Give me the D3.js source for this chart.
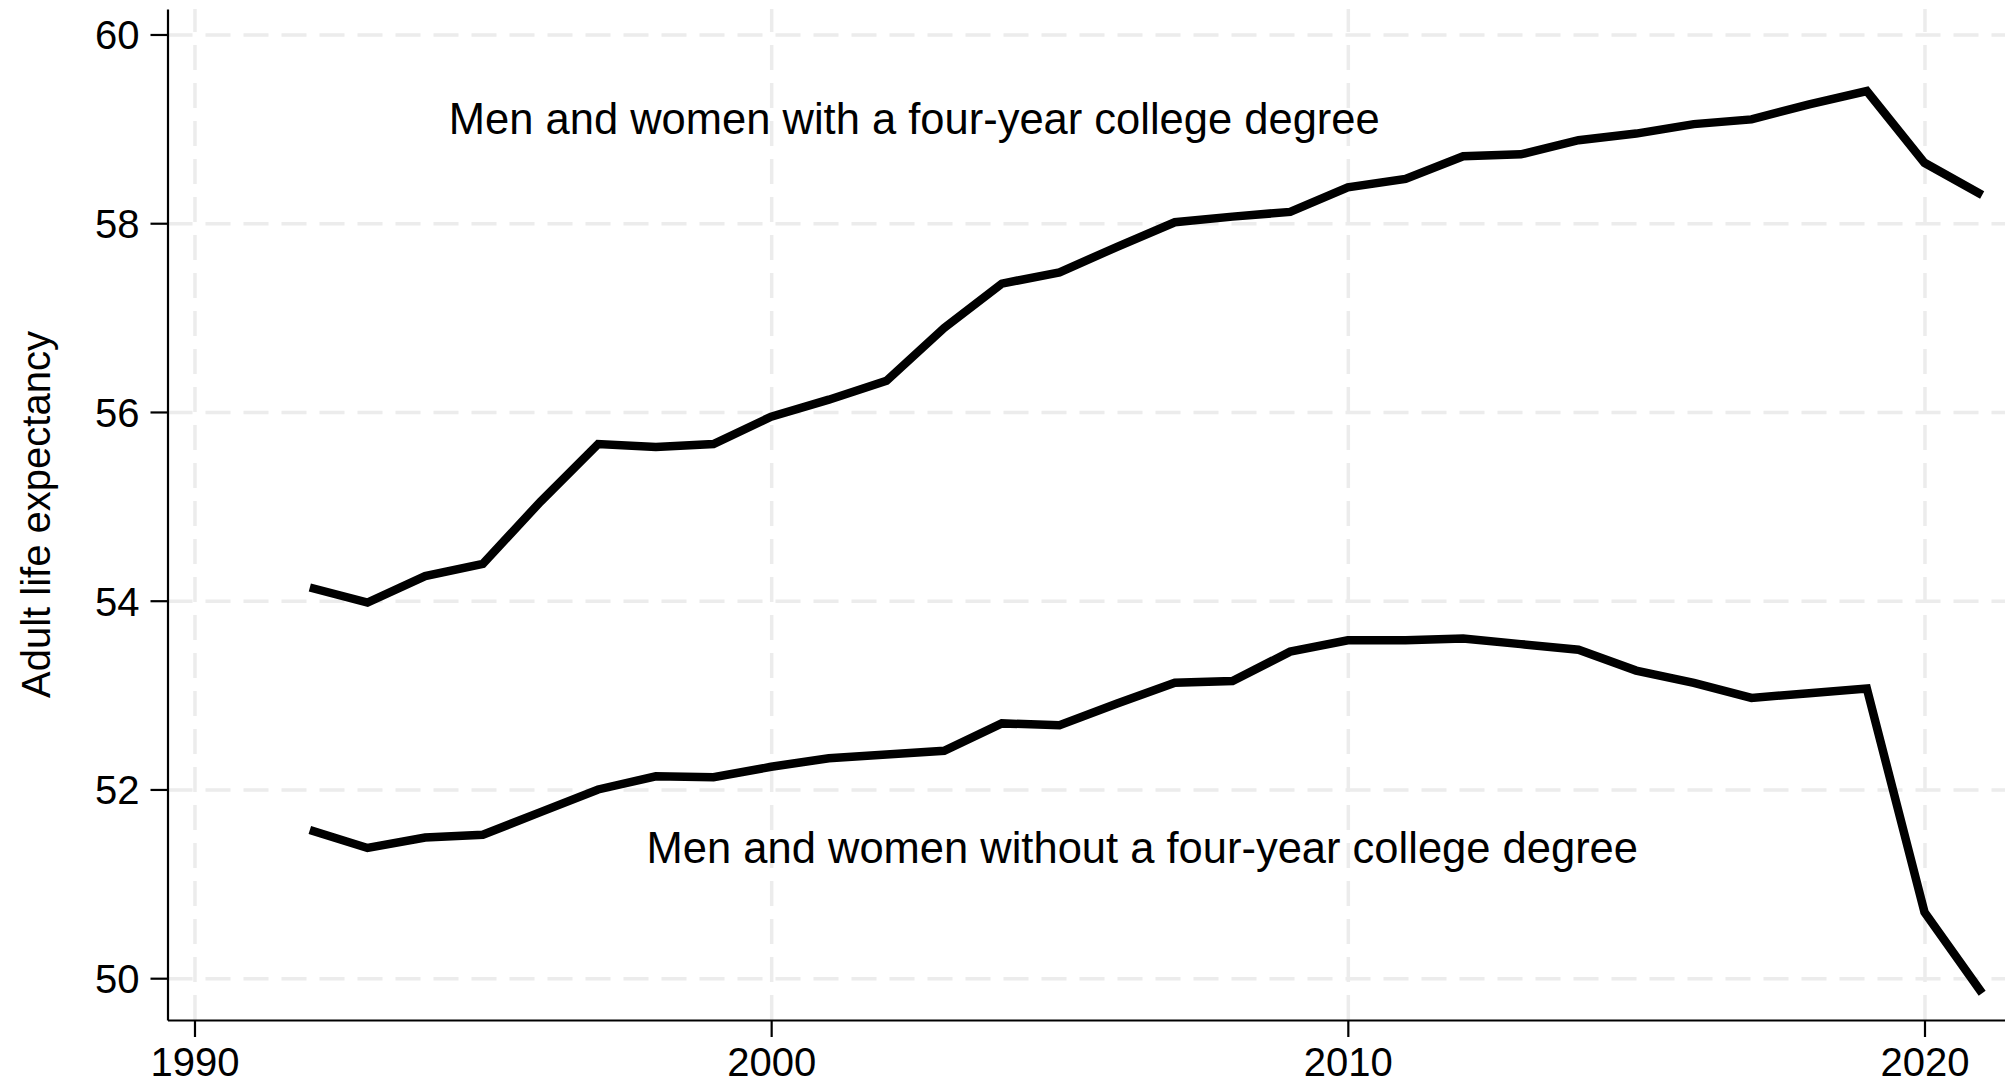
<!DOCTYPE html>
<html>
<head>
<meta charset="utf-8">
<script src="https://cdn.jsdelivr.net/npm/d3@7"></script>
<style>
  body { margin: 0; background: #fff; }
  svg { display: block; font-family: "Liberation Sans", Arial, Helvetica, sans-serif; }
</style>
</head>
<body>
<div id="chart"></div>
<script>
// values
let years = [1992, 1993, 1994, 1995, 1996, 1997, 1998, 1999, 2000, 2001,
             2002, 2003, 2004, 2005, 2006, 2007, 2008, 2009, 2010, 2011,
             2012, 2013, 2014, 2015, 2016, 2017, 2018, 2019, 2020, 2021];

let withDegree = [54.14, 53.98, 54.26, 54.39, 55.05, 55.66, 55.63, 55.66, 55.95, 56.13,
                  56.33, 56.89, 57.36, 57.48, 57.75, 58.01, 58.07, 58.12, 58.38, 58.47,
                  58.71, 58.73, 58.88, 58.95, 59.05, 59.10, 59.26, 59.40, 58.64, 58.30];

let withoutDegree = [51.57, 51.38, 51.49, 51.52, 51.76, 52.00, 52.14, 52.13, 52.24, 52.33,
                     52.37, 52.41, 52.70, 52.68, 52.91, 53.13, 53.15, 53.46, 53.58, 53.58,
                     53.60, 53.54, 53.48, 53.26, 53.13, 52.97, 53.02, 53.07, 50.70, 49.84];

let xTicks = [1990, 2000, 2010, 2020];
let yTicks = [50, 52, 54, 56, 58, 60];

let labelWith = "Men and women with a four-year college degree";
let labelWithout = "Men and women without a four-year college degree";
let yTitle = "Adult life expectancy";

let width = 2005;
let height = 1084;

let plotLeft = 167.5;
let plotRight = 2005;
let plotTop = 9;
let plotBottom = 1020;

let svg = d3.select("#chart")
            .append("svg")
            .attr("width", width)
            .attr("height", height)

let xScale = d3.scaleLinear()
            .domain([1989.532, 2021.396])
            .range([plotLeft, plotRight])

let yScale = d3.scaleLinear()
            .domain([49.557, 60.27])
            .range([plotBottom, plotTop])

// dashed grid
let xGrid = svg.append("g")
    .attr("transform", `translate(0, ${plotBottom})`)
    .call(d3.axisBottom(xScale).tickValues(xTicks).tickSize(-(plotBottom - plotTop)).tickFormat(""))
xGrid.select(".domain").remove()

let yGrid = svg.append("g")
    .attr("transform", `translate(${plotLeft}, 0)`)
    .call(d3.axisLeft(yScale).tickValues(yTicks).tickSize(-(plotRight - plotLeft)).tickFormat(""))
yGrid.select(".domain").remove()

svg.selectAll(".tick line")
    .attr("stroke", "#ececec")
    .attr("stroke-width", 3.5)
    .attr("stroke-dasharray", "25,13")

// lines
let line = d3.line()
    .x(function(d){ return xScale(d[0]) })
    .y(function(d){ return yScale(d[1]) })

let series = [withDegree, withoutDegree];

svg.selectAll("path.series")
    .data(series)
    .enter()
    .append("path")
    .attr("class", "series")
    .attr("fill", "none")
    .attr("stroke", "#000")
    .attr("stroke-width", 8.5)
    .attr("d", function(vals){
        return line(years.map(function(y, i){ return [y, vals[i]] }))
    })

// axes
let xAxis = svg.append("g")
    .attr("transform", `translate(0, ${plotBottom})`)
    .call(d3.axisBottom(xScale).tickValues(xTicks).tickSize(17).tickSizeOuter(0).tickPadding(11).tickFormat(d3.format("d")))

let yAxis = svg.append("g")
    .attr("transform", `translate(${plotLeft}, 0)`)
    .call(d3.axisLeft(yScale).tickValues(yTicks).tickSize(17).tickSizeOuter(0).tickPadding(11))

;[xAxis, yAxis].forEach(function(ax){
    ax.attr("font-family", null).attr("font-size", null)
    ax.select(".domain").attr("stroke", "#000").attr("stroke-width", 2.2)
    ax.selectAll(".tick line").attr("stroke", "#000").attr("stroke-width", 2.2)
    ax.selectAll(".tick text").attr("fill", "#000").style("font-size", "40px")
})
yAxis.selectAll(".tick text").attr("dy", "0.36em")

// axis title
svg.append("text")
    .attr("transform", `translate(50, ${(plotTop + plotBottom) / 2}) rotate(-90)`)
    .attr("text-anchor", "middle")
    .style("font-size", "40px")
    .text(yTitle)

// line labels
svg.append("text")
    .attr("x", xScale(1994.41))
    .attr("y", yScale(58.946))
    .style("font-size", "43.5px")
    .text(labelWith)

svg.append("text")
    .attr("x", xScale(1997.84))
    .attr("y", yScale(51.218))
    .style("font-size", "43.5px")
    .text(labelWithout)
</script>
</body>
</html>
